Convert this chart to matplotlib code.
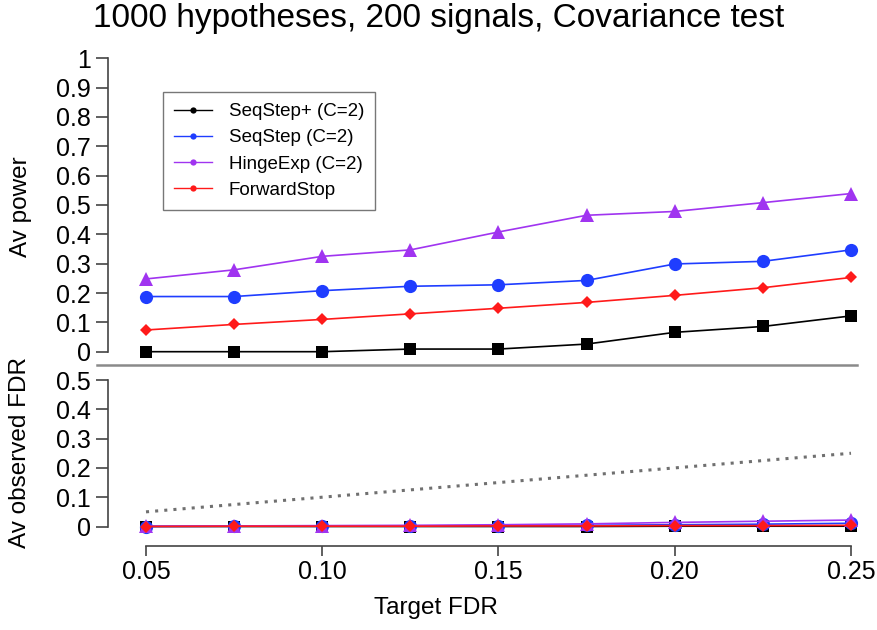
import matplotlib
matplotlib.use("Agg")
import matplotlib.pyplot as plt
from matplotlib.lines import Line2D
import numpy as np

plt.rcParams['font.family'] = ['Liberation Sans', 'DejaVu Sans']

target_fdr = [0.05, 0.075, 0.10, 0.125, 0.15, 0.175, 0.20, 0.225, 0.25]
xtick_vals = [0.05, 0.10, 0.15, 0.20, 0.25]
xtick_labels = ["0.05", "0.10", "0.15", "0.20", "0.25"]
ytick_top = [0, 0.1, 0.2, 0.3, 0.4, 0.5, 0.6, 0.7, 0.8, 0.9, 1]
ytick_top_labels = ["0", "0.1", "0.2", "0.3", "0.4", "0.5", "0.6", "0.7", "0.8", "0.9", "1"]
ytick_bot = [0, 0.1, 0.2, 0.3, 0.4, 0.5]
ytick_bot_labels = ["0", "0.1", "0.2", "0.3", "0.4", "0.5"]

methods = ["SeqStep+ (C=2)", "SeqStep (C=2)", "HingeExp (C=2)", "ForwardStop"]

power_seqstep_plus = [0.0, 0.0, 0.0, 0.009, 0.009, 0.026, 0.066, 0.086, 0.122]
power_seqstep = [0.188, 0.188, 0.208, 0.223, 0.228, 0.243, 0.299, 0.308, 0.347]
power_hinge = [0.248, 0.279, 0.325, 0.347, 0.408, 0.465, 0.478, 0.508, 0.539]
power_forward = [0.074, 0.093, 0.110, 0.129, 0.148, 0.168, 0.192, 0.218, 0.253]

fdr_seqstep_plus = [0.0, 0.0, 0.0, 0.0, 0.0, 0.0, 0.001, 0.001, 0.001]
fdr_seqstep = [0.0, 0.001, 0.001, 0.002, 0.003, 0.004, 0.006, 0.008, 0.011]
fdr_hinge = [0.001, 0.002, 0.003, 0.004, 0.006, 0.009, 0.014, 0.018, 0.022]
fdr_forward = [0.0, 0.001, 0.001, 0.001, 0.002, 0.002, 0.003, 0.003, 0.004]

colors = ["#000000", "#1f3dff", "#a034f0", "#ff1a1a"]
markers = ["s", "o", "^", "D"]
msizes = [9, 9.5, 10.5, 6]

W, H = 878, 630
fig = plt.figure(figsize=(W / 100, H / 100), dpi=100)

def fbox(l, t, r, b):
    return [l / W, 1 - b / H, (r - l) / W, (b - t) / H]

ppu = 3525.0
xl = (0.05 - (146 - 108) / ppu, 0.25 + (860 - 851) / ppu)

ax1 = fig.add_axes(fbox(108, 50, 860, 362))
ax2 = fig.add_axes(fbox(108, 372, 860, 540))

spine_col = "#444444"

# top panel
for vals, c, m, ms in zip([power_seqstep_plus, power_seqstep, power_hinge, power_forward],
                          colors, markers, msizes):
    ax1.plot(target_fdr, vals, color=c, marker=m, markersize=ms, lw=1.2,
             markeredgewidth=0, clip_on=False)
ax1.set_xlim(*xl)
ax1.set_ylim(-(362 - 351.7) / 293.3, 1 + (58.3 - 50) / 293.3)
for s in ["top", "right", "bottom"]:
    ax1.spines[s].set_visible(False)
ax1.spines["left"].set_bounds(0, 1)
ax1.spines["left"].set_color(spine_col)
ax1.spines["left"].set_linewidth(1.2)
ax1.set_xticks([])
ax1.set_yticks(ytick_top)
ax1.set_yticklabels(ytick_top_labels)
ax1.tick_params(axis="y", length=8.6, width=1.2, color=spine_col, pad=3.6,
                labelsize=18)
ax1.patch.set_visible(False)

# bottom panel
ax2.plot(target_fdr, target_fdr, color="#707070", lw=2.2, linestyle=(0, (1, 2.0)))
for vals, c, m, ms in zip([fdr_seqstep_plus, fdr_seqstep, fdr_hinge, fdr_forward],
                          colors, markers, msizes):
    ax2.plot(target_fdr, vals, color=c, marker=m, markersize=ms, lw=1.2,
             markeredgewidth=0, clip_on=False)
ax2.set_xlim(*xl)
ax2.set_ylim(-(540 - 526.5) / 293.0, 0.5 + (380 - 372) / 293.0)
for s in ["top", "right"]:
    ax2.spines[s].set_visible(False)
ax2.spines["left"].set_bounds(0, 0.5)
ax2.spines["bottom"].set_bounds(0.05, 0.25)
ax2.spines["bottom"].set_position(("outward", 4.3))
for s in ["left", "bottom"]:
    ax2.spines[s].set_color(spine_col)
    ax2.spines[s].set_linewidth(1.2)
ax2.set_yticks(ytick_bot)
ax2.set_yticklabels(ytick_bot_labels)
ax2.set_xticks(xtick_vals)
ax2.set_xticklabels(xtick_labels)
ax2.tick_params(axis="y", length=8.6, width=1.2, color=spine_col, pad=3.6,
                labelsize=18)
ax2.tick_params(axis="x", length=7.2, width=1.2, color=spine_col, pad=3,
                labelsize=18)
ax2.patch.set_visible(False)

# separator line
fig.add_artist(Line2D([97 / W, 857 / W], [1 - 365 / H, 1 - 365 / H],
                      color="#8a8a8a", lw=1.8))

# labels
fig.text(439 / W, 1 - 18 / H, "1000 hypotheses, 200 signals, Covariance test",
         ha="center", va="center", fontsize=24)
fig.text(21 / W, 1 - 207 / H, "Av power", rotation=90, ha="center", va="center",
         fontsize=17.5)
fig.text(20 / W, 1 - 452 / H, "Av observed FDR", rotation=90, ha="center",
         va="center", fontsize=17.5)
fig.text(436 / W, 1 - 608 / H, "Target FDR", ha="center", va="center",
         fontsize=17.5)

# legend
handles = [Line2D([], [], color=c, marker="o", markersize=4.5, lw=1.0,
                  markeredgewidth=0) for c in colors]
leg = fig.legend(handles, methods, loc="upper left",
                 bbox_to_anchor=(163 / W, 1 - 92 / H), fontsize=13.5,
                 frameon=True, fancybox=False, handlelength=2.0,
                 handletextpad=0.9, labelspacing=0.48, borderpad=0.6,
                 borderaxespad=0)
leg.get_frame().set_edgecolor("#555555")
leg.get_frame().set_linewidth(1.0)

fig.savefig("out.png", dpi=100)
